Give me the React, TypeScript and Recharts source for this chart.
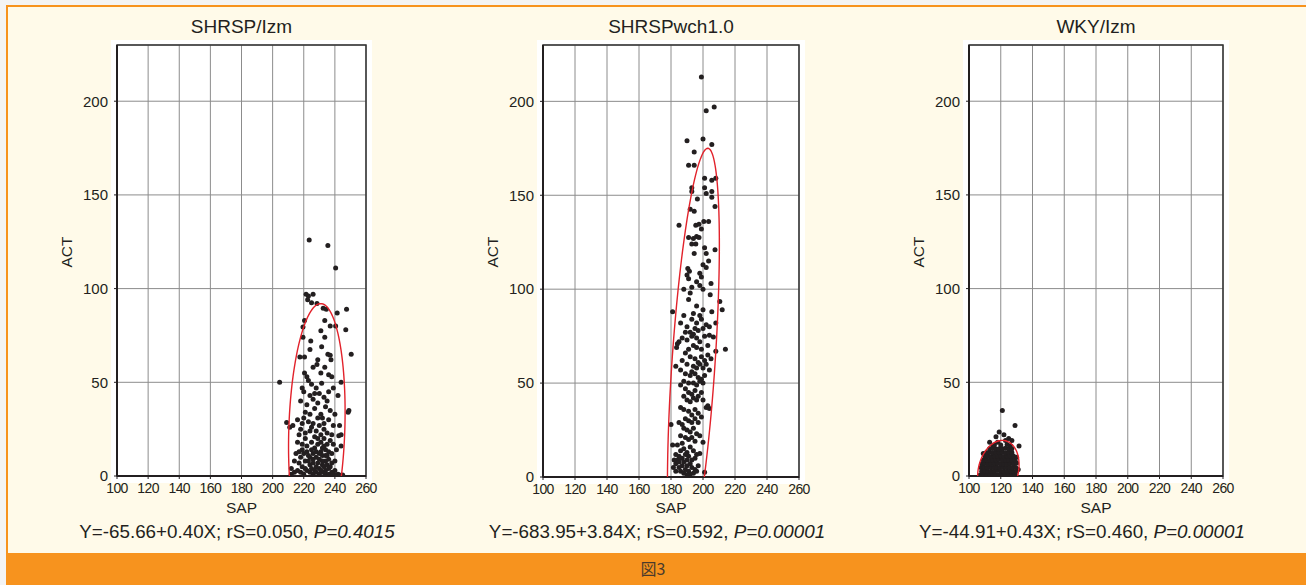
import React from 'react';
import { ScatterChart, Scatter, XAxis, YAxis, CartesianGrid, ReferenceArea } from 'recharts';

const sapTicks = [100, 120, 140, 160, 180, 200, 220, 240, 260];
const actTicks = [0, 50, 100, 150, 200];

const panelTitles = ['SHRSP/Izm', 'SHRSPwch1.0', 'WKY/Izm'];
const regressionTexts = ['Y=-65.66+0.40X; rS=0.050, ', 'Y=-683.95+3.84X; rS=0.592, ', 'Y=-44.91+0.43X; rS=0.460, '];
const pValueTexts = ['P=0.4015', 'P=0.00001', 'P=0.00001'];

// SAP, ACT
const izmPoints: [number, number][] = [
  [223.5, 126], [235.5, 123], [240.5, 111],
  [221.5, 97], [223, 96], [226, 97], [222.5, 94], [225, 92.5], [228.5, 92], [232.5, 89.5], [234.5, 89], [241.5, 87], [247.5, 89],
  [220.5, 83], [219.5, 79.5], [233.5, 83], [237, 80], [240.5, 80], [247, 78], [219.5, 74], [231, 77.5], [233.5, 74],
  [224.5, 72], [224, 67.5], [250.5, 65], [231.5, 69], [217.5, 63.5], [220.5, 63.5], [235.5, 65], [237, 64.5], [237.5, 62],
  [226, 58], [228.5, 59.5], [231, 55], [233.5, 58], [236, 54], [238, 53], [220.5, 55], [222, 53], [244, 50], [204.5, 50],
  [225, 49], [228, 47], [231.5, 49.5], [219, 47], [220, 45], [224, 43], [226, 41], [230, 44], [233, 42], [236, 45], [239, 47], [242, 43],
  [229, 39], [222, 38], [218, 40], [234, 37], [237, 35], [240, 33], [249, 35], [248.5, 34], [227, 36], [231, 33], [224, 33],
  [220, 31], [216, 30], [213, 27], [211, 26], [209, 28.5], [219, 28], [223, 29], [226, 28], [230, 27], [233, 28], [236, 30], [239, 27], [243, 27],
  [244, 22], [242.5, 21.5], [244, 16], [217, 22], [221, 23], [224, 24], [227, 21], [231, 22], [233, 20], [235, 23], [237, 19], [239, 17],
  [216, 18], [219, 17], [222, 16], [225, 18], [229, 17], [232, 15], [234, 14], [236, 13], [238, 12], [241, 14],
  [215, 12], [218, 10], [220, 12], [223, 11], [226, 12], [228, 10], [230, 9], [232, 11], [234, 8], [236, 9], [238, 7],
  [217, 7], [219, 5], [221, 8], [224, 6], [226, 7], [228, 5], [230, 4], [232, 6], [234, 3], [236, 4], [238, 2], [240, 3], [242, 1],
  [212, 1], [214, 2], [216, 3], [218, 2], [220, 1], [222, 3], [224, 2], [226, 1], [228, 2], [230, 1], [232, 2], [234, 1], [236, 1],
  [239, 1], [241, 0.5], [243, 0.5], [245, 0.5],
  [225, 4], [227, 3], [229, 7], [231, 3], [233, 5], [235, 6], [237, 5], [223, 8], [221, 4], [219, 14], [227, 15], [231, 13],
  [235, 17], [233, 25], [229, 31], [225, 26], [221, 20], [217, 13], [214, 8], [212, 4],
  [222, 13], [224, 10], [226, 9], [228, 13], [230, 12], [232, 8], [234, 11], [225, 14], [229, 20], [231, 18], [233, 16], [235, 11],
  [218, 25], [228, 24], [232, 31], [238, 22], [240, 8], [221, 34], [227, 44], [235, 40], [223, 51], [229, 62],
];

const wchPoints: [number, number][] = [
  [199, 213], [202, 195], [207, 197],
  [190, 179], [200, 180], [205.5, 177], [194.5, 173],
  [191, 166], [194.5, 166], [201, 159], [205.5, 158], [208, 159], [193, 154], [193, 152], [201, 154], [202, 151], [205.5, 152], [205.5, 149], [196.5, 148],
  [207.5, 144], [192, 142.5], [194.5, 141.5],
  [185, 134], [195.5, 134], [197.5, 134.5], [200.5, 136], [203.5, 136], [199, 132],
  [191, 127.5], [194, 127], [196, 128], [197.5, 127.5], [193, 124], [195.5, 124], [201, 122], [207.5, 121],
  [194.5, 119], [202, 119], [203.5, 115], [200, 113], [190.5, 111], [191.5, 109.5], [202, 111.5], [198, 108.5], [199, 106.5], [190, 107.5], [191, 105.5],
  [204.5, 97], [192, 98], [191, 94.5], [196, 91], [200, 89], [194, 87], [198, 86], [205.5, 88], [210.5, 93.5], [212, 89], [181, 88],
  [198, 102], [200, 100], [205, 103], [196, 104], [188, 100], [193, 101],
  [188, 86], [193, 84], [196, 82], [199, 84], [202, 81], [186, 82], [190, 80], [195, 79], [197, 78], [200, 79], [204, 80], [208, 82], [192, 77], [194, 76], [189, 77],
  [185, 72], [184, 71], [187, 74], [190, 73], [193, 75], [196, 74], [198, 72], [201, 75], [204, 75.5], [206.5, 74.5], [194, 70], [196, 69], [199, 68], [203, 70], [208, 67], [214, 68], [191, 68],
  [183.5, 69], [189, 66], [192, 64], [195, 63], [197, 61], [199, 64], [201, 62], [203, 65], [205, 63], [187, 62], [190, 60], [194, 59], [196, 58], [198, 60], [200, 58], [202, 60], [183, 59], [204, 57],
  [186, 57], [189, 55], [192, 54], [195, 55], [197, 53], [199, 52], [201, 54], [188, 51], [191, 50], [194, 50], [196, 49], [198, 51], [200, 50], [193, 56],
  [186, 49], [189, 47], [191, 45], [193, 44], [195, 46], [197, 43], [199, 45], [188, 43], [190, 41], [192, 40], [194, 42], [196, 41], [200, 41], [202, 37], [204, 36.5], [203, 38],
  [186, 37], [188, 36], [191, 35], [193, 33], [195, 36], [197, 34], [199, 32], [189, 31], [191, 30], [193, 29], [195, 31], [197, 29], [180, 28], [185, 29], [187, 28],
  [188, 26], [190, 25], [192, 24], [194, 26], [196, 23], [198, 22], [186, 22], [189, 21], [191, 20], [193, 21], [195, 19], [200, 18.5], [187, 18], [181, 17],
  [184, 17], [186, 14], [188, 15], [190, 13], [192, 16], [194, 14], [196, 12], [198, 12.5], [183, 12], [185, 11], [187, 10], [189, 12], [191, 11], [193, 9], [195, 10],
  [181.5, 5], [183, 7], [184, 9], [185, 5], [186, 3], [187, 6], [188, 8], [189, 4], [190, 6], [191, 3], [192, 7], [193, 5], [194, 2], [195, 4], [196, 3], [201, 2.5],
  [183, 3], [185, 8], [188, 2], [190, 9], [192, 1.5], [182, 9], [186, 10], [190, 1], [197, 6],
];

const wkyPoints: [number, number][] = [
  [121, 35], [129, 27], [119, 23.5], [122, 22], [117, 21], [125, 20], [131.5, 16], [113, 18], [109, 12], [131, 3.5], [127, 19], [115, 16], [118, 18], [123, 19],
  [107, 0.5], [109, 0.8], [111, 0.5], [113, 1], [115, 0.5], [117, 0.7], [119, 0.5], [121, 1], [123, 0.5], [125, 0.8], [127, 0.5], [129, 1],
  [108, 2.5], [110, 2.8], [112, 2.4], [114, 2.6], [116, 2.5], [118, 2.9], [120, 2.4], [122, 2.6], [124, 2.5], [126, 2.8], [128, 2.4], [130, 2.6],
  [107.5, 4.5], [109.5, 4.7], [111.5, 4.4], [113.5, 4.6], [115.5, 4.5], [117.5, 4.8], [119.5, 4.4], [121.5, 4.6], [123.5, 4.5], [125.5, 4.7], [127.5, 4.4], [129.5, 4.6],
  [108, 6.5], [110, 6.7], [112, 6.4], [114, 6.6], [116, 6.5], [118, 6.8], [120, 6.4], [122, 6.6], [124, 6.5], [126, 6.7], [128, 6.4], [130, 7],
  [109, 8.5], [111, 8.7], [113, 8.4], [115, 8.6], [117, 8.5], [119, 8.8], [121, 8.4], [123, 8.6], [125, 8.5], [127, 8.7], [129, 8.4],
  [110, 10.5], [112, 10.7], [114, 10.4], [116, 10.6], [118, 10.5], [120, 10.8], [122, 10.4], [124, 10.6], [126, 10.5], [128, 10.7], [130, 10],
  [111, 12.5], [113, 12.7], [115, 12.4], [117, 12.6], [119, 12.5], [121, 12.8], [123, 12.4], [125, 12.6], [127, 12.5],
  [113, 14.5], [115, 14.7], [117, 14.4], [119, 14.6], [121, 14.5], [123, 14.8], [125, 14.4], [127, 14.6],
  [116, 16.5], [120, 16.5], [124, 16.8], [126, 16.2],
];

// confidence ellipse: centre SAP, centre ACT, SAP radius, ACT radius, SAP shear at the top
const izmEllipse = [228.4, 25, 18, 67, 2.5];
const wchEllipse = [194, 60, 13.5, 115, 9];
const wkyEllipse = [118.5, 3, 12.8, 16, 2.5];

const ink = '#231f20';
const font = '"Liberation Sans", Arial, Helvetica, sans-serif';

function ellipseOutline(e: number[]) {
  const [cx, cy, rx, ry, k] = e;
  const pts = [];
  for (let i = 0; i <= 160; i++) {
    const t = (i / 160) * Math.PI * 2;
    pts.push({ x: cx + rx * Math.cos(t) + k * Math.sin(t), y: cy + ry * Math.sin(t) });
  }
  return pts;
}

const dot = (p: any) => <circle cx={p.cx} cy={p.cy} r={2.5} fill={ink} />;

type PanelProps = {
  plotLeft: number;
  plotW: number;
  plotH: number;
  idx: number;
  points: [number, number][];
  ellipse: number[];
  captionX: number;
};

function Panel({ plotLeft, plotW, plotH, idx, points, ellipse, captionX }: PanelProps) {
  const yW = 60;
  const top = 45;
  const xH = 30;
  const rightPad = 24;
  const data = points.map(([x, y]) => ({ x, y }));
  const center = plotLeft + plotW / 2;
  return (
    <>
      <div style={{ position: 'absolute', left: plotLeft - 6, top: top - 5, width: plotW + 12, height: plotH + 12, background: '#fff' }} />
      <div style={{ position: 'absolute', left: center - 150, width: 300, top: 16, textAlign: 'center', fontSize: 19, color: ink }}>
        {panelTitles[idx]}
      </div>
      <div style={{ position: 'absolute', left: plotLeft - 50 - 40, top: top + plotH / 2 - 8 - 10, width: 80, textAlign: 'center', fontSize: 15.5, color: ink, transform: 'rotate(-90deg)' }}>
        ACT
      </div>
      <div style={{ position: 'absolute', left: center - 40, top: 499, width: 80, textAlign: 'center', fontSize: 15.5, color: ink }}>
        SAP
      </div>
      <div style={{ position: 'absolute', left: captionX - 220, width: 440, top: 521, textAlign: 'center', fontSize: 18.8, color: ink, whiteSpace: 'nowrap' }}>
        {regressionTexts[idx]}<i>{pValueTexts[idx]}</i>
      </div>
      <div style={{ position: 'absolute', left: plotLeft - yW, top: 0 }}>
        <ScatterChart width={yW + plotW + rightPad} height={top + plotH + xH} margin={{ top, right: rightPad, bottom: 0, left: 0 }}>
          <CartesianGrid stroke="#8c8c8c" strokeWidth={1} />
          <XAxis
            type="number"
            dataKey="x"
            domain={[100, 260]}
            ticks={sapTicks}
            height={xH}
            tickSize={3}
            tickMargin={4}
            interval={0}
            axisLine={{ stroke: ink, strokeWidth: 2 }}
            tickLine={{ stroke: ink }}
            tick={{ fill: ink, fontSize: 14, fontFamily: font, letterSpacing: -0.6 }}
          />
          <YAxis
            type="number"
            dataKey="y"
            domain={[0, 230]}
            ticks={actTicks}
            allowDataOverflow
            width={yW}
            tickSize={3}
            tickMargin={6}
            interval={0}
            axisLine={{ stroke: ink, strokeWidth: 2 }}
            tickLine={{ stroke: ink }}
            tick={{ fill: ink, fontSize: 15, fontFamily: font }}
          />
          <ReferenceArea x1={100} x2={260} y1={0} y2={230} fill="none" stroke="#333" strokeWidth={1.5} />
          <Scatter data={data} shape={dot} isAnimationActive={false} />
          <Scatter
            data={ellipseOutline(ellipse)}
            line={{ stroke: '#e2222b', strokeWidth: 1.4 }}
            shape={() => <g />}
            isAnimationActive={false}
          />
        </ScatterChart>
      </div>
    </>
  );
}

export default function App() {
  return (
    <div style={{ position: 'absolute', left: 0, top: 0, width: 1306, height: 585, background: '#f4f4f4', overflow: 'hidden', fontFamily: font }}>
      <div style={{ position: 'absolute', left: 6, top: 5, width: 1320, height: 580, background: '#fffae9', borderLeft: '2px solid #f7931e', borderTop: '2px solid #f7931e' }} />
      <Panel plotLeft={117} plotW={249} plotH={431} idx={0} points={izmPoints} ellipse={izmEllipse} captionX={237} />
      <Panel plotLeft={543} plotW={256} plotH={432} idx={1} points={wchPoints} ellipse={wchEllipse} captionX={657} />
      <Panel plotLeft={969} plotW={254} plotH={431} idx={2} points={wkyPoints} ellipse={wkyEllipse} captionX={1082} />
      <div style={{ position: 'absolute', left: 6, top: 553, width: 1310, height: 32, background: '#f7931e' }} />
      <div style={{ position: 'absolute', left: 603, width: 100, top: 556, textAlign: 'center', fontSize: 16, color: '#4a3a2c', fontFamily: '"Noto Sans CJK JP", sans-serif' }}>
        図3
      </div>
    </div>
  );
}
